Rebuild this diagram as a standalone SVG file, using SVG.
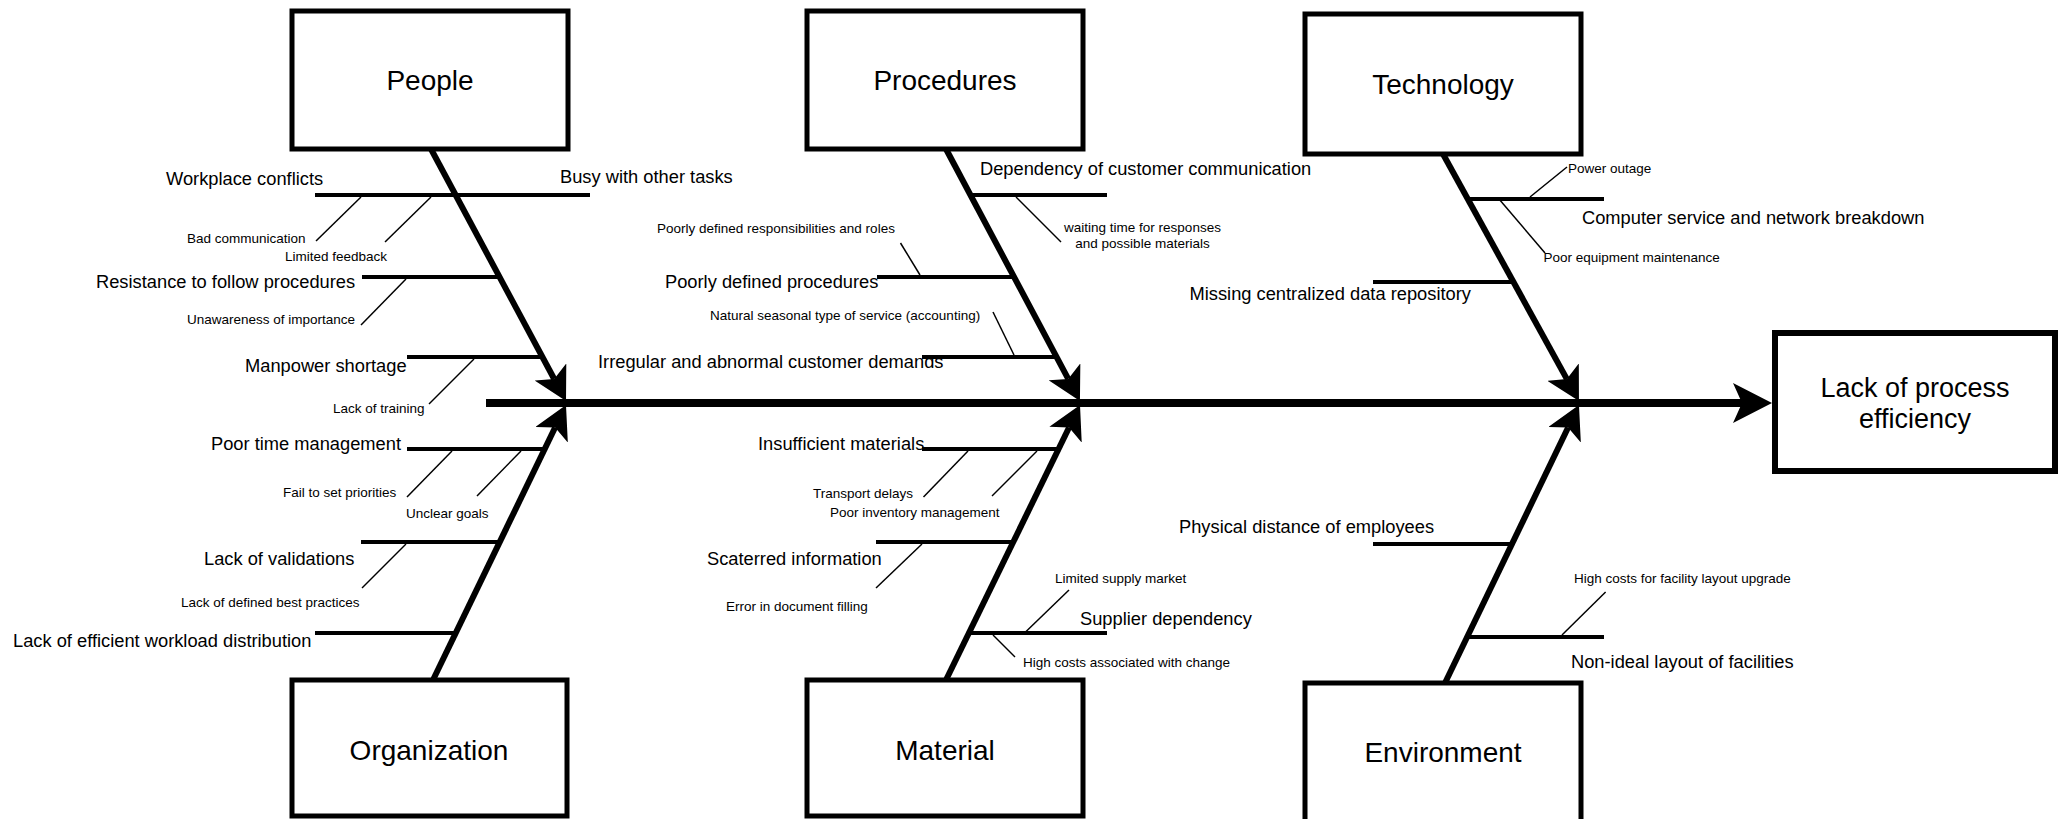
<svg xmlns="http://www.w3.org/2000/svg" width="2060" height="819" viewBox="0 0 2060 819">
  <defs>
    <marker id="headMain" markerUnits="userSpaceOnUse" markerWidth="40" markerHeight="40" viewBox="0 0 40 40" refX="9" refY="20" orient="auto">
      <path d="M0,0 L39,20 L0,40 L9,20 Z" fill="#000"/>
    </marker>
    <marker id="headBone" markerUnits="userSpaceOnUse" markerWidth="34" markerHeight="36" viewBox="0 0 34 36" refX="8" refY="18" orient="auto">
      <path d="M0,0 L33,18 L0,36 L8,18 Z" fill="#000"/>
    </marker>
    <style>
      .box { fill: #fff; stroke: #000; stroke-width: 5; }
      .result { fill: #fff; stroke: #000; stroke-width: 6; }
      .main { stroke: #000; stroke-width: 8; fill: none; }
      .bone { stroke: #000; stroke-width: 6; fill: none; }
      .branch { stroke: #000; stroke-width: 4; fill: none; }
      .twig { stroke: #000; stroke-width: 1.5; fill: none; }
      text { font-family: "Liberation Sans", Arial, Helvetica, sans-serif; fill: #000; }
      .title { font-size: 28px; text-anchor: middle; }
      .effect-title { font-size: 27px; text-anchor: middle; }
      .cause { font-size: 18.3px; }
      .sub { font-size: 13.5px; }
    </style>
  </defs>

  <rect width="2060" height="819" fill="#fff"/>

  <!-- spine and category bones -->
  <g id="connectors">
    <line class="main" x1="486" y1="403" x2="1742" y2="403" marker-end="url(#headMain)"/>
    <line class="bone" x1="431" y1="149" x2="554.2" y2="379" marker-end="url(#headBone)"/>
    <line class="bone" x1="433" y1="680" x2="555.1" y2="427.5" marker-end="url(#headBone)"/>
    <line class="bone" x1="946" y1="149" x2="1068.2" y2="378.9" marker-end="url(#headBone)"/>
    <line class="bone" x1="946" y1="680" x2="1069.05" y2="427.5" marker-end="url(#headBone)"/>
    <line class="bone" x1="1443" y1="154" x2="1566.9" y2="379.1" marker-end="url(#headBone)"/>
    <line class="bone" x1="1445" y1="683" x2="1568.1" y2="427.5" marker-end="url(#headBone)"/>
  </g>

  <!-- People causes -->
  <g id="people-causes">
    <line class="branch" x1="315" y1="195" x2="590" y2="195"/>
    <line class="branch" x1="362" y1="277" x2="499" y2="277"/>
    <line class="branch" x1="407" y1="357" x2="541" y2="357"/>
    <line class="twig" x1="361" y1="197" x2="316" y2="241"/>
    <line class="twig" x1="431" y1="197" x2="385" y2="242"/>
    <line class="twig" x1="406" y1="279" x2="361" y2="325"/>
    <line class="twig" x1="474" y1="359" x2="429" y2="404"/>
    <text class="cause" x="166" y="185">Workplace conflicts</text>
    <text class="cause" x="560" y="183">Busy with other tasks</text>
    <text class="cause" x="96" y="288">Resistance to follow procedures</text>
    <text class="cause" x="245" y="372">Manpower shortage</text>
    <text class="sub" x="187" y="243">Bad communication</text>
    <text class="sub" x="285" y="261">Limited feedback</text>
    <text class="sub" x="187" y="324">Unawareness of importance</text>
    <text class="sub" x="333" y="413">Lack of training</text>
  </g>

  <!-- Organization causes -->
  <g id="organization-causes">
    <line class="branch" x1="407" y1="449" x2="545" y2="449"/>
    <line class="branch" x1="361" y1="542" x2="500" y2="542"/>
    <line class="branch" x1="315" y1="633" x2="456" y2="633"/>
    <line class="twig" x1="452" y1="451" x2="407" y2="497"/>
    <line class="twig" x1="521" y1="451" x2="477" y2="496"/>
    <line class="twig" x1="406" y1="544" x2="362" y2="588"/>
    <text class="cause" x="211" y="450">Poor time management</text>
    <text class="cause" x="204" y="565">Lack of validations</text>
    <text class="cause" x="13" y="647">Lack of efficient workload distribution</text>
    <text class="sub" x="283" y="497">Fail to set priorities</text>
    <text class="sub" x="406" y="518">Unclear goals</text>
    <text class="sub" x="181" y="607">Lack of defined best practices</text>
  </g>

  <!-- Procedures causes -->
  <g id="procedures-causes">
    <line class="branch" x1="970" y1="195" x2="1107" y2="195"/>
    <line class="branch" x1="877" y1="277" x2="1014" y2="277"/>
    <line class="branch" x1="922" y1="357" x2="1057" y2="357"/>
    <line class="twig" x1="1016" y1="197" x2="1061" y2="242"/>
    <line class="twig" x1="920" y1="275" x2="900.5" y2="243"/>
    <line class="twig" x1="1014" y1="355" x2="993" y2="312"/>
    <text class="cause" x="980" y="175">Dependency of customer communication</text>
    <text class="cause" x="665" y="288">Poorly defined procedures</text>
    <text class="cause" x="598" y="368">Irregular and abnormal customer demands</text>
    <text class="sub" x="657" y="233">Poorly defined responsibilities and roles</text>
    <text class="sub" x="1142.5" y="232" text-anchor="middle">waiting time for responses</text>
    <text class="sub" x="1142.5" y="248" text-anchor="middle">and possible materials</text>
    <text class="sub" x="710" y="320">Natural seasonal type of service (accounting)</text>
  </g>

  <!-- Material causes -->
  <g id="material-causes">
    <line class="branch" x1="922" y1="449" x2="1059" y2="449"/>
    <line class="branch" x1="876" y1="542" x2="1013" y2="542"/>
    <line class="branch" x1="969" y1="633" x2="1107" y2="633"/>
    <line class="twig" x1="968" y1="451" x2="923.5" y2="497"/>
    <line class="twig" x1="1037" y1="451" x2="992" y2="496"/>
    <line class="twig" x1="922" y1="544" x2="876" y2="588"/>
    <line class="twig" x1="1024.5" y1="633" x2="1069" y2="590"/>
    <line class="twig" x1="993" y1="635" x2="1015" y2="657"/>
    <text class="cause" x="758" y="450">Insufficient materials</text>
    <text class="cause" x="707" y="565">Scaterred information</text>
    <text class="cause" x="1080" y="625">Supplier dependency</text>
    <text class="sub" x="813" y="498">Transport delays</text>
    <text class="sub" x="830" y="517">Poor inventory management</text>
    <text class="sub" x="726" y="611">Error in document filling</text>
    <text class="sub" x="1055" y="583">Limited supply market</text>
    <text class="sub" x="1023" y="667">High costs associated with change</text>
  </g>

  <!-- Technology causes -->
  <g id="technology-causes">
    <line class="branch" x1="1467" y1="199" x2="1604" y2="199"/>
    <line class="branch" x1="1373" y1="282" x2="1513" y2="282"/>
    <line class="twig" x1="1530" y1="197" x2="1567" y2="167"/>
    <line class="twig" x1="1499" y1="199" x2="1545" y2="253"/>
    <text class="cause" x="1582" y="224">Computer service and network breakdown</text>
    <text class="cause" x="1189.5" y="300">Missing centralized data repository</text>
    <text class="sub" x="1568" y="173">Power outage</text>
    <text class="sub" x="1543.5" y="262">Poor equipment maintenance</text>
  </g>

  <!-- Environment causes -->
  <g id="environment-causes">
    <line class="branch" x1="1373" y1="544" x2="1512" y2="544"/>
    <line class="branch" x1="1467" y1="637" x2="1604" y2="637"/>
    <line class="twig" x1="1562" y1="635" x2="1605.6" y2="592"/>
    <text class="cause" x="1179" y="533">Physical distance of employees</text>
    <text class="cause" x="1571" y="668">Non-ideal layout of facilities</text>
    <text class="sub" x="1574" y="583">High costs for facility layout upgrade</text>
  </g>

  <!-- category nodes -->
  <g id="people">
    <rect class="box" x="292" y="11" width="276" height="138"/>
    <text class="title" x="430" y="90">People</text>
  </g>
  <g id="procedures">
    <rect class="box" x="807" y="11" width="276" height="138"/>
    <text class="title" x="945" y="90">Procedures</text>
  </g>
  <g id="technology">
    <rect class="box" x="1305" y="14" width="276" height="140"/>
    <text class="title" x="1443" y="94">Technology</text>
  </g>
  <g id="organization">
    <rect class="box" x="292" y="680" width="275" height="136"/>
    <text class="title" x="429" y="760">Organization</text>
  </g>
  <g id="material">
    <rect class="box" x="807" y="680" width="276" height="136"/>
    <text class="title" x="945" y="760">Material</text>
  </g>
  <g id="environment">
    <rect class="box" x="1305" y="683" width="276" height="145"/>
    <text class="title" x="1443" y="762">Environment</text>
  </g>

  <!-- effect -->
  <g id="effect">
    <rect class="result" x="1775" y="333" width="280" height="138"/>
    <text class="effect-title" x="1915" y="397">Lack of process</text>
    <text class="effect-title" x="1915" y="428">efficiency</text>
  </g>
</svg>
